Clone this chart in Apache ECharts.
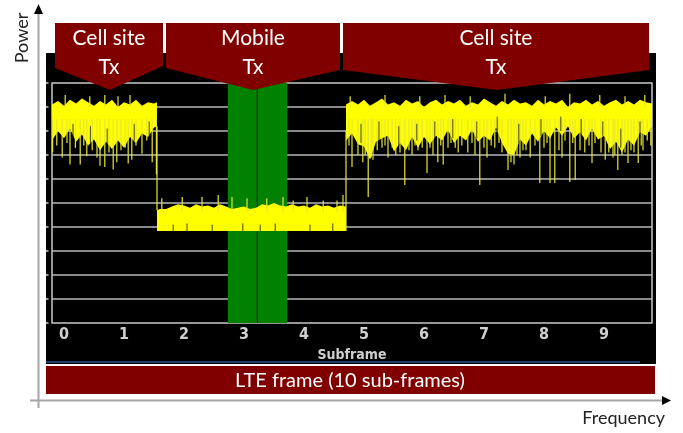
<!DOCTYPE html>
<html><head><meta charset="utf-8">
<script src="https://cdn.jsdelivr.net/npm/echarts@6/dist/echarts.min.js"></script>
<style>html,body{margin:0;padding:0;background:#fff}#c{width:683px;height:433px}</style>
</head><body><div id="c"></div>
<script>
// ---- axis / tick data ----
const xTickValues = [0,1,2,3,4,5,6,7,8,9];
const xTickLabels = ['0','1','2','3','4','5','6','7','8','9'];
const yGridValues = [10,20,30,40,50,60,70,80,90];
const yTickValues = [0,10,20,30,40,50,60,70,80,90,100];
const xMin = -0.2, xMax = 9.8, yMin = 0, yMax = 100;

// ---- receive gate (mobile Tx slot) ----
const gateStart = 2.73, gateEnd = 3.72, gateLine = 3.22;

// ---- signal envelope: segment 1 (cell site Tx) ----
const seg1X  = [-0.2,-0.1,0,0.1,0.2,0.3,0.4,0.5,0.6,0.7,0.8,0.9,1.0,1.1,1.2,1.3,1.4,1.5,1.55];
const seg1Hi = [91,92.5,90.5,93,91.5,93.5,92,90.5,92.5,91,93,90,92,91,93,90.5,92,91.5,92];
const seg1Lo = [76,80,77,81,75.5,78.5,74,76.5,72,75.5,72.5,76,73,77.5,75,79,77.5,81.5,82];
// ---- segment 2 (mobile Tx) ----
const lowX  = [1.55,1.6,1.7,1.8,1.9,2.0,2.1,2.2,2.3,2.4,2.5,2.6,2.7,2.8,2.9,3.0,3.1,3.2,3.3,3.4,3.5,3.6,3.7,3.8,3.9,4.0,4.1,4.2,4.3,4.4,4.5,4.6,4.7];
const lowHi = [47,47.5,47.5,48.5,49.5,49,48,49.5,48.5,49,48,49.5,48.5,47.5,48,48.5,47.5,48,49.5,49,50,49,48.5,49.5,48.5,49,48,49.5,48.5,49,48,49,48.5];
const lowLo = [38.3,38.3,38.3,38.3,38.3,38.3,38.3,38.3,38.3,38.3,38.3,38.3,38.3,38.3,38.3,38.3,38.3,38.3,38.3,38.3,38.3,38.3,38.3,38.3,38.3,38.3,38.3,38.3,38.3,38.3,38.3,38.3,38.3];
// ---- segment 3 (cell site Tx) ----
const seg3X  = [4.7,4.8,4.9,5.0,5.1,5.2,5.3,5.4,5.5,5.6,5.7,5.8,5.9,6.0,6.1,6.2,6.3,6.4,6.5,6.6,6.7,6.8,6.9,7.0,7.1,7.2,7.3,7.4,7.5,7.6,7.7,7.8,7.9,8.0,8.1,8.2,8.3,8.4,8.5,8.6,8.7,8.8,8.9,9.0,9.1,9.2,9.3,9.4,9.5,9.6,9.7,9.8];
const seg3Hi = [91,92.5,91,93,90.5,92,93.5,91,92,90.5,93,91.5,92.5,90,92,93,91,92.5,91.5,93,90.5,92,91,93.5,92,90.5,92.5,91,93,91.5,92,90.5,93,91,92.5,91.5,93,90,92,91.5,93,91,92.5,90.5,92,93,91,92.5,91,93,92,91.5];
const seg3Lo = [76,79,74.5,73.5,68,75.5,77,78,71.5,75,72,77.5,73,77.5,74.5,78,76,80.5,75,78,76,80.5,75.5,78,76,81.5,75,70.5,70,76.5,74,79,75.5,80,77,81.5,78,82,77,79.5,76,81,76.5,78,72.5,75.5,71,76.5,74,79.5,78,82];

// ---- yellow spikes (x, from, to) ----
const spikeX    = [-0.19,-0.03,0.1,0.27,0.38,0.55,0.6,0.68,0.82,0.88,1.07,1.13,1.3,1.47,1.54,
                   4.8,4.98,5.07,5.22,5.4,5.53,5.68,5.8,6.05,6.23,6.32,6.57,6.73,6.93,7.05,7.18,7.4,7.6,7.77,7.93,8.1,8.18,8.3,8.43,8.52,8.68,8.8,9.02,9.23,9.4,9.57,
                   4.9,5.15,5.3,5.6,5.9,6.15,6.4,6.85,7.3,7.5,7.7,8.0,8.25,8.6,8.95,9.15,9.3,9.5,9.65,9.78,
                   -0.12,0.05,0.19,0.33,0.47,0.75,0.95,1.02,1.2,1.38,
                   4.75,5.02,5.12,5.35,5.47,5.75,5.85,5.97,6.1,6.28,6.45,6.52,6.63,6.8,7.0,7.12,7.25,7.45,7.55,7.65,7.85,8.05,8.35,8.48,8.75,8.85,9.08,9.18,9.35,9.45,9.62,9.72,
                   1.63,1.97,2.3,2.57,2.8,3.05,3.38,3.65,3.82,4.05,4.32,4.55,4.65,
                   0.02,0.43,0.68,0.9,1.1,4.77,5.35,5.93,6.35,6.77,7.35,8.02,8.43,8.93,9.35,9.68,
                   1.55,4.7];
const spikeFrom = [71,69,66,66,69.5,69,65.5,65,64,67,66.5,68,70.5,67,62,
                   65,67,52.5,72,69,70,57.5,70,62.5,67,66,71,71,57.5,69,73,63.8,69,69,58.3,58.3,58.3,69,58.8,59.6,71,66.7,68,63.8,66.7,66.7,
                   70,68,73,71,72,70,73,70,71,66,72,73,72,72,71,69,70,71,72,74,
                   74,75,73,74,72,71,72,73,74,76,
                   74,70,69,74,73,72,74,73,73,74,75,73,74,75,73,74,75,67,70,72,74,75,76,75,74,75,71,70,71,72,74,76,
                   46,46,46,46,46,46,46,46,46,46,46,46,46,
                   90,90,90,90,90,90,90,90,90,90,90,90,90,90,90,90,
                   47,38.3];
const spikeTo   = [85,85,85,85,85,85,85,85,85,85,85,85,85,85,85,
                   85,85,85,85,85,85,85,85,85,85,85,85,85,85,85,85,85,85,85,85,85,85,85,85,85,85,85,85,85,85,85,
                   85,85,85,85,85,85,85,85,85,85,85,85,85,85,85,85,85,85,85,85,
                   85,85,85,85,85,85,85,85,85,85,
                   85,85,85,85,85,85,85,85,85,85,85,85,85,85,85,85,85,85,85,85,85,85,85,85,85,85,85,85,85,85,85,85,
                   52,52.5,52.5,53.3,52.5,52,52,52.5,51,52.5,51,51,53.3,
                   95,94.5,95,94.5,95,94.5,95,94.5,95,94.5,95.5,94.5,95.5,95,94.5,95,
                   82,80];
// ---- dark gaps inside the trace (x, from, to) ----
const gapX    = [0.15,0.44,0.72,1.17,1.42,
                 4.95,5.25,5.58,5.88,6.18,6.48,6.88,7.22,7.58,7.95,8.28,8.62,8.98,9.28,9.6,
                 1.82,2.05,2.47,2.98,3.27,3.52,4.1,4.48];
const gapFrom = [77,75,74,76,78,
                 75,76,74,76,77,77,77,79,75,78,80,78,78,73,77,
                 38.3,38.3,38.3,38.3,38.3,38.3,38.3,38.3];
const gapTo   = [83,82,81,83,84,
                 83,84,82,83,84,85,84,86,83,85,86,85,84,81,84,
                 41,41.5,41,41.5,41,41.5,41,41.5];

const sigX  = seg1X.concat(lowX, seg3X);
const sigHi = seg1Hi.concat(lowHi, seg3Hi);
const sigLo = seg1Lo.concat(lowLo, seg3Lo);

const chart = echarts.init(document.getElementById('c'), null, {renderer:'canvas'});
const txtFont = 'Lato, "Open Sans", sans-serif';
const scopeFont = '"DejaVu Sans Condensed", "DejaVu Sans", sans-serif';
const red = '#800000';

function banner(pts, cx, line1, line2){
  return [
    {type:'polygon', z:100, shape:{points:pts}, style:{fill:red}},
    {type:'text', z:101, x:cx, y:38, style:{text:line1, fill:'#fff', font:'21px '+txtFont, align:'center', verticalAlign:'middle'}},
    {type:'text', z:101, x:cx, y:67, style:{text:line2, fill:'#fff', font:'21px '+txtFont, align:'center', verticalAlign:'middle'}}
  ];
}
function lineItem(stroke, width, opacity){
  return function(params, api){
    const a=api.coord([api.value(0), api.value(1)]);
    const b=api.coord([api.value(0), api.value(2)]);
    return {type:'line', shape:{x1:a[0], y1:a[1], x2:b[0], y2:b[1]}, style:{stroke:stroke, lineWidth:width, opacity:opacity}};
  };
}

const option = {
  backgroundColor:'#ffffff',
  animation:false,
  grid:{left:52, top:83, width:600, height:240, show:true, borderColor:'#c8c8c8', borderWidth:1.5, backgroundColor:'transparent'},
  xAxis:{type:'value', min:xMin, max:xMax,
    name:'Subframe', nameLocation:'middle', nameGap:24,
    nameTextStyle:{color:'#d0d0d0', fontFamily:scopeFont, fontWeight:'bold', fontSize:14},
    axisLine:{show:false}, axisTick:{show:false}, splitLine:{show:false},
    axisLabel:{customValues:xTickValues, margin:4, color:'#d0d0d0', fontFamily:scopeFont, fontWeight:'bold', fontSize:16,
      formatter:function(v){ const i = xTickValues.indexOf(Math.round(v)); return i>=0 ? xTickLabels[i] : ''; }}
  },
  yAxis:{type:'value', min:yMin, max:yMax, interval:10,
    axisLine:{show:false}, axisLabel:{show:false}, axisTick:{show:false}, splitLine:{show:false}
  },
  series:[
    {type:'custom', name:'grid lines', z:1, silent:true,
      data:yTickValues.map(v=>[xMin, v]),
      renderItem:function(params, api){
        const v=api.value(1);
        const a=api.coord([xMin, v]), b=api.coord([xMax, v]);
        const kids=[{type:'line', shape:{x1:a[0]-6, y1:a[1], x2:a[0]-3.5, y2:a[1]}, style:{stroke:'#d0d0d0', lineWidth:1.5}}];
        if (yGridValues.indexOf(v) >= 0) kids.push({type:'line', shape:{x1:a[0], y1:a[1], x2:b[0], y2:b[1]}, style:{stroke:'#b8b8b8', lineWidth:1.5}});
        return {type:'group', children:kids};
      }
    },
    {type:'custom', name:'gate', z:2,
      data:[[gateStart, gateEnd, gateLine]],
      encode:{x:[0,1,2], y:1},
      renderItem:function(params, api){
        const s=api.value(0), e=api.value(1), m=api.value(2);
        const p0=api.coord([s,yMax]), p1=api.coord([e,yMin]);
        const l0=api.coord([m,yMax]), l1=api.coord([m,yMin]);
        return {type:'group', children:[
          {type:'rect', shape:{x:p0[0], y:p0[1], width:p1[0]-p0[0], height:p1[1]-p0[1]}, style:{fill:'#008200'}},
          {type:'line', shape:{x1:l0[0], y1:l0[1], x2:l1[0], y2:l1[1]}, style:{stroke:'#0d260d', lineWidth:1}}
        ]};
      }
    },
    {type:'custom', name:'signal', z:3,
      data:[[sigX[0], sigHi[0]]],
      renderItem:function(params, api){
        const up = sigX.map((x,i)=>api.coord([x, sigHi[i]]));
        const lo = sigX.map((x,i)=>api.coord([x, sigLo[i]])).reverse();
        return {type:'polygon', shape:{points:up.concat(lo)}, style:{fill:'#ffff00'}};
      }
    },
    {type:'custom', name:'spikes', z:4,
      data:spikeX.map((x,i)=>[x, spikeFrom[i], spikeTo[i]]),
      encode:{x:0, y:[1,2]},
      renderItem:lineItem('#e6e632', 1.2, 1)
    },
    {type:'custom', name:'gaps', z:5,
      data:gapX.map((x,i)=>[x, gapFrom[i], gapTo[i]]),
      encode:{x:0, y:[1,2]},
      renderItem:lineItem('#1a1a00', 1, 0.8)
    }
  ],
  graphic:[
    {type:'rect', z:-100, shape:{x:46, y:53, width:610, height:311}, style:{fill:'#000000'}},
    {type:'line', z:-99, shape:{x1:46, y1:362, x2:640, y2:362}, style:{stroke:'#2b4f91', lineWidth:1.5}},
    {type:'line', z:50, shape:{x1:38.5, y1:12, x2:38.5, y2:408}, style:{stroke:'#a6a6a6', lineWidth:2}},
    {type:'polygon', z:51, shape:{points:[[38.5,4],[34,14],[43,14]]}, style:{fill:'#000'}},
    {type:'line', z:50, shape:{x1:30, y1:400.5, x2:663, y2:400.5}, style:{stroke:'#a6a6a6', lineWidth:2}},
    {type:'polygon', z:51, shape:{points:[[671,400.5],[662,396],[662,405]]}, style:{fill:'#000'}},
    {type:'text', z:51, x:22, y:38, rotation:Math.PI/2, style:{text:'Power', fill:'#222', font:'18px '+txtFont, align:'center', verticalAlign:'middle'}},
    {type:'text', z:51, x:665, y:418, style:{text:'Frequency', fill:'#222', font:'18px '+txtFont, align:'right', verticalAlign:'middle'}},
    {type:'rect', z:100, shape:{x:46, y:366, width:609, height:28}, style:{fill:red}},
    {type:'text', z:101, x:350, y:381, style:{text:'LTE frame (10 sub-frames)', fill:'#fff', font:'20px '+txtFont, align:'center', verticalAlign:'middle'}}
  ].concat(
    banner([[55,23],[163,23],[163,66],[110,90],[55,68]], 109, 'Cell site', 'Tx'),
    banner([[166,23],[340,23],[340,70],[253,90],[166,68]], 253, 'Mobile', 'Tx'),
    banner([[343,23],[649,23],[649,70],[497,90],[343,70]], 496, 'Cell site', 'Tx')
  )
};
chart.setOption(option);
</script>
</body></html>
